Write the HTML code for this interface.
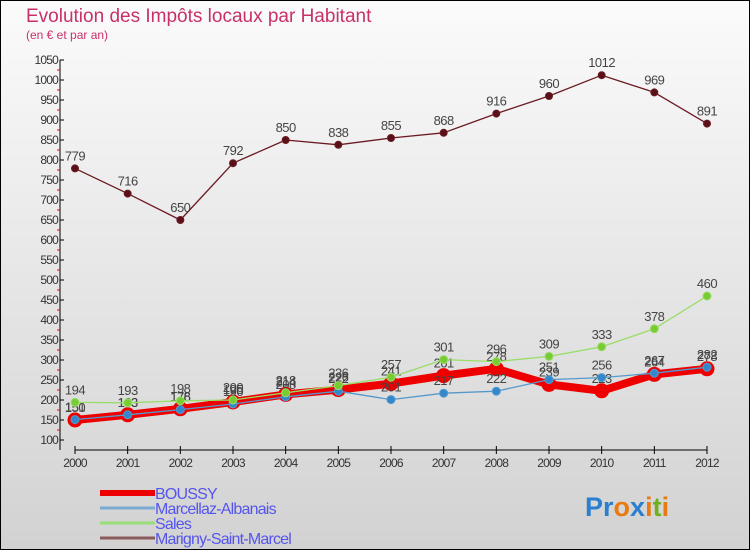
<!DOCTYPE html>
<html><head><meta charset="utf-8"><style>
body{margin:0;width:750px;height:550px;overflow:hidden;font-family:"Liberation Sans",sans-serif}
</style></head><body>
<svg id="chart" width="750" height="550" xmlns="http://www.w3.org/2000/svg">
<defs><linearGradient id="bg" x1="0" y1="0" x2="0" y2="1"><stop offset="0" stop-color="#fbfbfb"/><stop offset="1" stop-color="#d2d2d2"/></linearGradient></defs>
<rect x="0.5" y="0.5" width="749" height="549" fill="url(#bg)" stroke="#000"/>
<text x="26" y="22" font-size="19" fill="#c8306a">Evolution des Impôts locaux par Habitant</text>
<text x="26" y="39" font-size="12" fill="#c8306a">(en € et par an)</text>
<g id="axes"></g><g id="series"></g><g id="legend"></g>
<text x="585" y="516" font-size="27" font-weight="bold"><tspan fill="#2a7fd0">Pr</tspan><tspan fill="#e87b10">o</tspan><tspan fill="#2a7fd0">x</tspan><tspan fill="#e87b10">i</tspan><tspan fill="#70b020">t</tspan><tspan fill="#e87b10">i</tspan></text>
</svg>
<script>
const years=[2000,2001,2002,2003,2004,2005,2006,2007,2008,2009,2010,2011,2012];
const yTicks=[100,150,200,250,300,350,400,450,500,550,600,650,700,750,800,850,900,950,1000,1050];
const seriesNames=["Marigny-Saint-Marcel","Sales","Marcellaz-Albanais","BOUSSY"];
const marigny=[779,716,650,792,850,838,855,868,916,960,1012,969,891];
const sales=[194,193,198,200,218,236,257,301,296,309,333,378,460];
const marcellaz=[151,163,176,190,208,222,201,217,222,251,256,267,282];
const boussy=[150,163,178,195,214,226,241,261,278,239,223,264,278];
const NS="http://www.w3.org/2000/svg";
const X=y=>75+(y-2000)*(707-75)/12;
const Y=v=>440-(v-100)*0.4;
const ax=document.getElementById('axes'),sg=document.getElementById('series'),lg=document.getElementById('legend');
function mk(p,t,a,txt){const e=document.createElementNS(NS,t);for(const k in a)e.setAttribute(k,a[k]);if(txt!==undefined)e.textContent=txt;p.appendChild(e);return e;}
let e=mk(ax,'line',{x1:60,y1:60,x2:60,y2:450,stroke:'#000'});


e=mk(ax,'line',{x1:75,y1:450,x2:707,y2:450,stroke:'#000'});


yTicks.forEach(v=>{
 mk(ax,'line',{x1:60,y1:Y(v),x2:64,y2:Y(v),stroke:'#000'});
 if(v<1050)mk(ax,'line',{x1:57,y1:Y(v+25),x2:60,y2:Y(v+25),stroke:'#e00'});
 const t=mk(ax,'text',{x:58,y:Y(v)+4,'font-size':12,'text-anchor':'end',fill:'#333','letter-spacing':'-0.8'},String(v));
 
 
});
years.forEach(y=>{
 mk(ax,'line',{x1:X(y),y1:446,x2:X(y),y2:454,stroke:'#000'});
 const t=mk(ax,'text',{x:X(y),y:467,'font-size':12,'text-anchor':'middle',fill:'#333','letter-spacing':'-0.8'},String(y));
 
 
});
function draw(vals,color,w,r,dot,name,labels){
 const g=mk(sg,'g',{});
 
 
 const p=mk(g,'polyline',{points:vals.map((v,i)=>X(years[i])+','+Y(v)).join(' '),fill:'none',stroke:color,'stroke-width':w,'stroke-linejoin':'round'});
 
 
 vals.forEach((v,i)=>{
  const c=mk(g,'circle',{cx:X(years[i]),cy:Y(v),r:r,fill:dot,stroke:color});
  
  
  if(labels){const t=mk(g,'text',{x:X(years[i]),y:Y(v)-8,'font-size':13,'text-anchor':'middle',fill:'#444','letter-spacing':'-0.5'},String(v));
  
  }
 });
}
draw(marigny,'#6b1a22',1.3,3.5,'#5a1018','marigny',true);
draw(boussy,'#ee0000',8,7,'#ee0000','boussy',true);
draw(marcellaz,'#5599cc',1.3,4,'#3388cc','marcellaz',true);
draw(sales,'#99dd66',1.3,4,'#77cc33','sales',true);
const legColors=["#ee0000","#7aabd0","#99dd77","#8b5a5a"];
const legNames=["BOUSSY","Marcellaz-Albanais","Sales","Marigny-Saint-Marcel"];
const legW=[6,3,3,3];
legNames.forEach((n,i)=>{
 const y=493+i*15;
 const l=mk(lg,'line',{x1:100,y1:y,x2:155,y2:y,stroke:legColors[i],'stroke-width':legW[i]});
 
 
 const t=mk(lg,'text',{x:155,y:y+6,'font-size':16,fill:'#5555ee','letter-spacing':'-0.8'},n);
 
 
});
</script>
</body></html>
